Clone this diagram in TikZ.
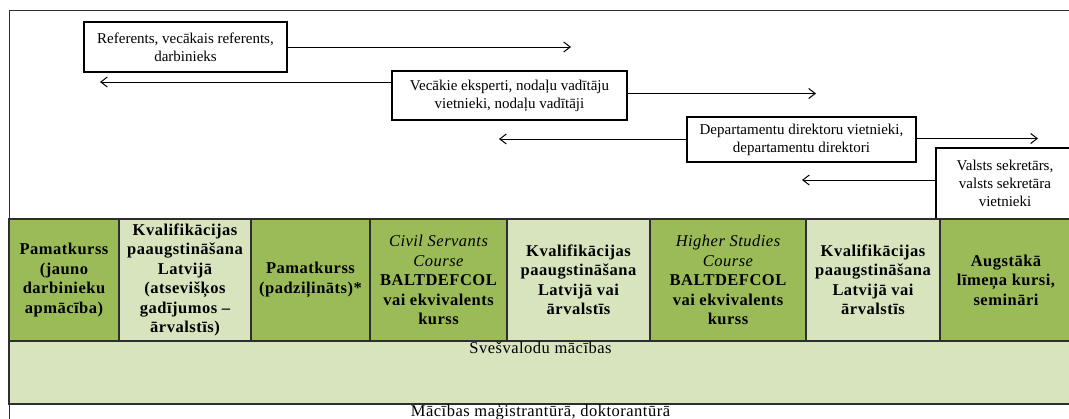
\documentclass[tikz,border=0pt]{standalone}
\usepackage{fontspec}
\setmainfont{Liberation Serif}
\newfontfamily\tabfont{Liberation Serif}[LetterSpace=3]
\usetikzlibrary{arrows.meta,calc}
\definecolor{dkgreen}{HTML}{9BBB59}
\definecolor{ltgreen}{HTML}{D7E4BD}
\definecolor{linegray}{HTML}{2E2E2E}
\begin{document}
\begin{tikzpicture}[x=1pt,y=-1pt,
  rolebox/.style={draw=black, line width=1.1pt, fill=white, align=center, inner sep=0pt, font=\fontsize{15}{18}\selectfont},
  cell/.style={draw=linegray, line width=1.3pt, anchor=north west, inner sep=0pt, outer sep=0pt, minimum height=122pt, align=center, font=\tabfont\bfseries\fontsize{16.5}{19.5}\selectfont},
  dark/.style={cell, fill=dkgreen},
  light/.style={cell, fill=ltgreen},
  plaintext/.style={anchor=north, inner sep=0.5pt, font=\tabfont\fontsize{16.5}{19.5}\selectfont},
  arr/.style={line width=0.9pt, -{Straight Barb[length=6.5pt,width=10pt,line width=1pt]}}
]
\useasboundingbox (0,0) rectangle (1069,418);
% outer frame
\draw[linegray, line width=1pt] (9.5,10) rectangle (1080,440);
% role boxes
\node[rolebox, minimum width=203pt, minimum height=50pt] (b1) at (185.5,47) {Referents, vecākais referents,\\darbinieks};
\node[rolebox, minimum width=235pt, minimum height=49pt] (b2) at (509.5,95.5) {Vecākie eksperti, nodaļu vadītāju\\vietnieki, nodaļu vadītāji};
\node[rolebox, minimum width=229pt, minimum height=45pt] (b3) at (801.5,139.5) {Departamentu direktoru vietnieki,\\departamentu direktori};
\node[rolebox, minimum width=138pt, minimum height=71pt] (b4) at (1005,183.5) {Valsts sekretārs,\\valsts sekretāra\\vietnieki};
% arrows
\coordinate (e1) at (571,47);
\coordinate (e2) at (100,82);
\coordinate (e3) at (816,93.5);
\coordinate (e4) at (499,139);
\coordinate (e5) at (1038,138.5);
\coordinate (e6) at (802,180);
\draw[arr] (b1.east) -- (e1);
\draw[arr] (b2.west |- e2) -- (e2);
\draw[arr] (b2.east |- e3) -- (e3);
\draw[arr] (b3.west |- e4) -- (e4);
\draw[arr] (b3.east |- e5) -- (e5);
\draw[arr] (b4.west |- e6) -- (e6);
% table row 1
\node[dark,  minimum width=110pt] (c1) at (9,219)   {Pamatkurss\\(jauno\\darbinieku\\apmācība)};
\node[light, minimum width=132pt] (c2) at (119,219) {Kvalifikācijas\\paaugstināšana\\Latvijā\\(atsevišķos\\gadījumos –\\ārvalstīs)};
\node[dark,  minimum width=119pt] (c3) at (251,219) {Pamatkurss\\(padziļināts)*};
\node[dark,  minimum width=137pt] (c4) at (370,219) {{\mdseries\itshape Civil Servants}\\{\mdseries\itshape Course}\\BALTDEFCOL\\vai ekvivalents\\kurss};
\node[light, minimum width=143pt] (c5) at (507,219) {Kvalifikācijas\\paaugstināšana\\Latvijā vai\\ārvalstīs};
\node[dark,  minimum width=156pt] (c6) at (650,219) {{\mdseries\itshape Higher Studies}\\{\mdseries\itshape Course}\\BALTDEFCOL\\vai ekvivalents\\kurss};
\node[light, minimum width=134pt] (c7) at (806,219) {Kvalifikācijas\\paaugstināšana\\Latvijā vai\\ārvalstīs};
\node[dark,  minimum width=132pt] (c8) at (940,219) {Augstākā\\līmeņa kursi,\\semināri};
% row 2
\node[cell, fill=ltgreen, minimum width=1063pt, minimum height=63pt] (lang) at (9,341) {};
\node[plaintext] (langt) at (lang.north) {Svešvalodu mācības};
% row 3
\node[plaintext] (study) at (lang.south) {Mācības maģistrantūrā, doktorantūrā};
\end{tikzpicture}
\end{document}
